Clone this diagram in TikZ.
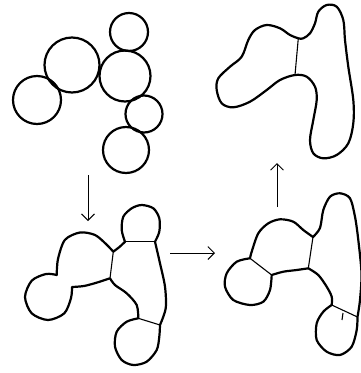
\documentclass[tikz,border=0pt]{standalone}
\usepackage{tikz}
\usetikzlibrary{arrows.meta}

\begin{document}
\begin{tikzpicture}[x=1pt,y=-1pt,
  blob/.style={line width=2.2pt,line join=round},
  cut/.style={line width=1.1pt},
  step arrow/.style={line width=0.9pt,-{Straight Barb[length=6.5pt,width=13pt]}}]
\useasboundingbox (0,0) rectangle (361,373);
\draw[blob] (129,32) circle (19);
\draw[blob] (72,65) circle (27.5);
\draw[blob] (37,100) circle (24);
\draw[blob] (125,76) circle (25.5);
\draw[blob] (144,114) circle (18.5);
\draw[blob] (126,150) circle (23);
\draw[blob] plot[smooth] coordinates {(125,241.7) (121.7,230) (123.3,216.7) (131.7,208.3)
    (141.7,205) (153.3,208.3) (159.3,218.3) (159.3,231.7) (155,241.7)}
  -- plot[smooth] coordinates {(155,241.7) (160,263.3) (165,286.7) (165.7,308.3) (160,325)}
  -- plot[smooth] coordinates {(160,325) (159.3,336.7) (156.7,350) (146.7,361.7) (133.3,365)
    (121.7,360) (115,346.7) (116.7,331.7) (126.7,321.7) (138.3,318.3)}
  -- plot[smooth] coordinates {(138.3,318.3) (136.7,305) (126.7,293.3) (115,285) (110,278.3)}
  -- plot[smooth] coordinates {(110,278.3) (97.5,282.4) (84,286) (72,287)}
  -- plot[smooth] coordinates {(72,287) (71,298) (64.3,313.3) (48,320) (31.7,313.3)
    (25,297) (31.7,280.7) (46,274) (56.7,275)}
  -- plot[smooth] coordinates {(56.7,275) (58,259) (64.9,239.9) (80,232.5) (95,235)
    (106,244) (113.3,251.7)}
  -- plot[smooth] coordinates {(113.3,251.7) (120,246.5) (125,241.7)} -- cycle;
\draw[cut] (125,241.7) -- (155,241.7);
\draw[cut] (113.3,251.7) -- (110,278.3);
\draw[cut] (138.3,318.3) -- (160,325);
\draw[blob] plot[smooth] coordinates {(250,258.3) (251.7,251.7) (258.3,233.3) (268.3,223.3)
    (280,219.3) (293.3,221.7) (303.3,230) (313,237)}
  -- plot[smooth] coordinates {(313,237) (320,228) (323.3,210) (330,196.7) (340,193.3)
    (350,198.3) (355,216.7) (358.3,240) (361.5,273.3) (360,300) (357.5,317)}
  -- plot[smooth] coordinates {(357.5,317) (356.7,330) (351.7,346.7) (340,355) (326.7,351.7)
    (316.7,340) (316.7,323.3) (323.3,311.7) (331.7,305)}
  -- plot[smooth] coordinates {(331.7,305) (331.7,296.7) (326.7,286.7) (318.3,275) (308.3,268.3)}
  -- plot[smooth] coordinates {(308.3,268.3) (296.7,270) (283.3,271.7) (271.7,275)}
  -- plot[smooth] coordinates {(271.7,275) (270,290) (263.3,301.7) (250,305) (233.3,300)
    (225,286.7) (226.7,273.3) (236.7,261.7) (250,258.3)} -- cycle;
\draw[cut] (250,258.3) -- (271.7,275);
\draw[cut] (313,237) -- (308.3,268.3);
\draw[cut] (331.7,305) -- (357.5,317);
\draw[cut] (343,313) -- (342,320);
\draw[blob] plot[smooth cycle,tension=0.55] coordinates {
  (298.3,38.3) (290,35) (280,28.3) (266.7,25) (255,30) (248.3,40)
  (241.7,56.7) (230,66.7) (218.3,78.3) (216.7,90) (221.7,103.3) (233.3,107.3)
  (250,101.7) (266.7,90) (280,80) (295,75) (306.7,76.7) (315,86.7)
  (316.7,100) (313.3,120) (310,140) (313.3,153.3) (323.3,158.3) (336.7,155)
  (348.3,143.3) (353.3,123.3) (353.3,100) (348.3,66.7) (345,40) (343.3,20)
  (336.7,6.7) (326.7,5) (318.3,11.7) (315,23.3) (310,33.3) (303.3,38.3)};
\draw[cut] (298.3,38.3) -- (295,75);
\coordinate (downA) at (88,175);
\coordinate (downB) at (88,221);
\coordinate (rightA) at (170,253);
\coordinate (rightB) at (215,253);
\coordinate (upA) at (277,207);
\coordinate (upB) at (277,163);
\draw[step arrow] (downA) -- (downB);
\draw[step arrow] (rightA) -- (rightB);
\draw[step arrow] (upA) -- (upB);
\end{tikzpicture}
\end{document}
